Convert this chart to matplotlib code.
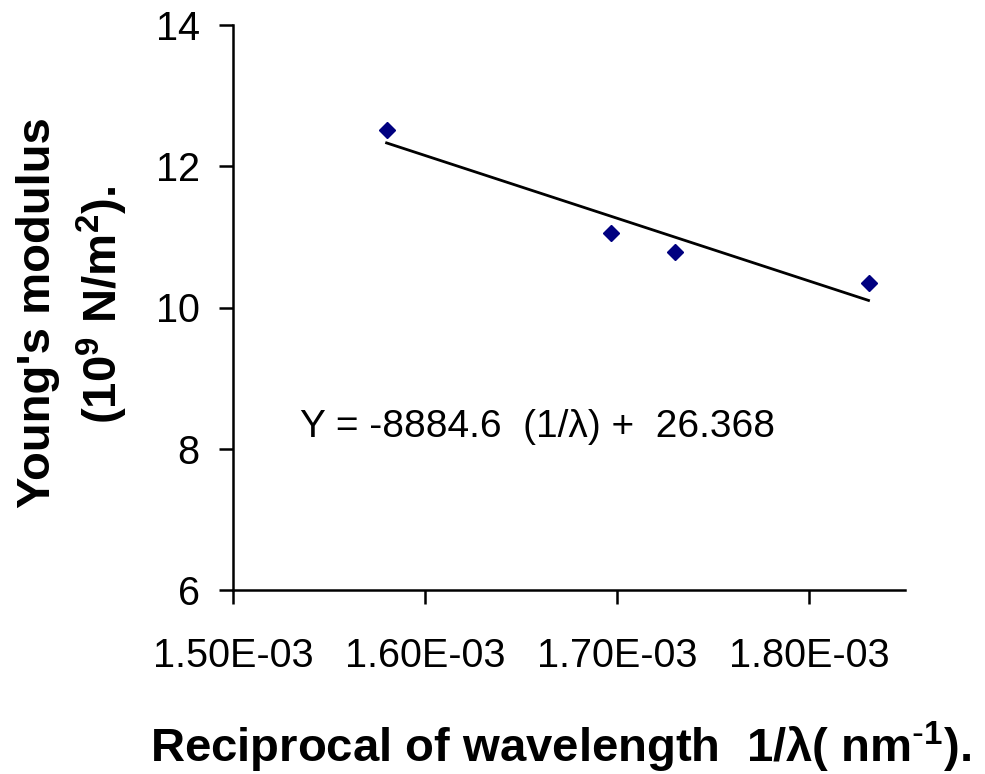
import numpy as np
import matplotlib
matplotlib.use("Agg")
import matplotlib.pyplot as plt

plt.rcParams['font.family'] = ['Liberation Sans', 'DejaVu Sans']
plt.rcParams['mathtext.default'] = 'regular'

# data
inv_wavelength = np.array([1.580e-3, 1.697e-3, 1.730e-3, 1.831e-3])   # 1/lambda (nm^-1)
youngs_modulus = np.array([12.52, 11.05, 10.78, 10.35])              # 10^9 N/m^2
fit_slope = -8884.6
fit_intercept = 26.368
x_ticks = [1.50e-3, 1.60e-3, 1.70e-3, 1.80e-3]
x_tick_labels = ["1.50E-03", "1.60E-03", "1.70E-03", "1.80E-03"]
y_ticks = [6, 8, 10, 12, 14]

fig = plt.figure(figsize=(9.85, 7.74), dpi=100)
ax = fig.add_axes([233/985, 1 - 590/774, (905 - 233)/985, (590 - 25)/774])

# data points
ax.plot(inv_wavelength, youngs_modulus, linestyle='none', marker='D',
        markersize=8, color='#000080', zorder=3)

# linear trend line
x_fit = np.array([inv_wavelength.min(), inv_wavelength.max()])
ax.plot(x_fit, fit_slope * x_fit + fit_intercept, color='black', linewidth=2.0, zorder=2)

ax.text(1.535e-3, 8.31, "Y = -8884.6  (1/λ) +  26.368", fontsize=28,
        ha='left', va='center')

ax.set_xlim(1.50e-3, 1.85e-3)
ax.set_ylim(6, 14)
ax.set_xticks(x_ticks)
ax.set_xticklabels(x_tick_labels)
ax.set_yticks(y_ticks)
ax.tick_params(axis='y', labelsize=28.5, length=10, width=1.8, pad=14, direction='out')
ax.tick_params(axis='x', labelsize=28.5, length=10, width=1.8, pad=24, direction='out')

for s in ['top', 'right']:
    ax.spines[s].set_visible(False)
for s in ['left', 'bottom']:
    ax.spines[s].set_linewidth(1.8)

# axis titles
fig.text(561/985, 12/774, r"Reciprocal of wavelength  1/λ( nm$^{\text{-}1}$).",
         fontsize=34, fontweight='bold', ha='center', va='baseline')
fig.text(38/985, 1 - 313/774, "Young's modulus", fontsize=34, fontweight='bold',
         rotation=90, ha='center', va='center')
fig.text(102/985, 1 - 305/774, "(10$^9$ N/m$^2$).", fontsize=34, fontweight='bold',
         rotation=90, ha='center', va='center')

plt.savefig("out.png", dpi=100)
